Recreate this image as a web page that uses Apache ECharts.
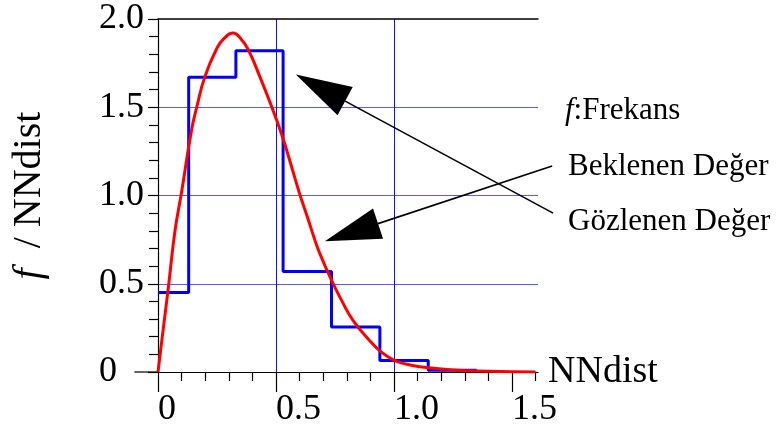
<!DOCTYPE html>
<html>
<head>
<meta charset="utf-8">
<script src="https://cdn.jsdelivr.net/npm/echarts@6/dist/echarts.min.js"></script>
<style>html,body{margin:0;background:#fff}#main{width:777px;height:433px}</style>
</head>
<body>
<div id="main"></div>
<script>
// gözlenen (histogram) - bin kenarları ve yükseklikler
var binEdges = [0, 0.13, 0.33, 0.53, 0.735, 0.94, 1.145, 1.35];
var observed = [0.45, 1.67, 1.82, 0.57, 0.255, 0.065, 0.01];

// beklenen (kırmızı eğri)
var curveX = [0, 0.02, 0.044, 0.072, 0.10, 0.142, 0.164, 0.199, 0.248, 0.28, 0.318, 0.35, 0.382, 0.431, 0.481, 0.523, 0.56, 0.60, 0.635, 0.664, 0.685, 0.735, 0.78, 0.826, 0.896, 0.94, 0.995, 1.05, 1.108, 1.25, 1.4, 1.6];
var curveY = [0, 0.22, 0.48, 0.80, 1.02, 1.37, 1.50, 1.675, 1.83, 1.89, 1.92, 1.89, 1.827, 1.675, 1.505, 1.35, 1.19, 1.01, 0.87, 0.75, 0.673, 0.52, 0.40, 0.293, 0.179, 0.12, 0.07, 0.045, 0.03, 0.012, 0.004, 0];

var xMajorTicks = [0, 0.5, 1.0, 1.5];
var xMinorTicks = [0.1, 0.2, 0.3, 0.4, 0.6, 0.7, 0.8, 0.9, 1.1, 1.2, 1.3, 1.4, 1.6];

// notlar ve oklar (veri koordinatında)
var notes = ['{i|f}:Frekans', 'Beklenen Değer', 'Gözlenen Değer'];
var arrowObs = [[1.674, 0.90], [0.584, 1.685]];
var arrowExp = [[1.670, 1.167], [0.707, 0.741]];

var serif = 'Liberation Serif';

var stepData = [];
for (var i = 0; i < observed.length; i++) {
    stepData.push([binEdges[i], observed[i]]);
}
stepData.push([binEdges[binEdges.length - 1], observed[observed.length - 1]]);

var curveData = curveX.map(function (x, i) { return [x, curveY[i]]; });

function fmt(v) { return v === 0 ? '0' : v.toFixed(1); }

var chart = echarts.init(document.getElementById('main'));
var option = {
    animation: false,
    backgroundColor: '#fff',
    grid: {left: 158, top: 19, right: 239, bottom: 61},
    xAxis: [
        {
            type: 'value', min: 0, max: 1.61, interval: 0.5, position: 'bottom',
            axisLine: {lineStyle: {color: '#000', width: 1.2}},
            axisTick: {customValues: xMajorTicks, length: 20, lineStyle: {color: '#000', width: 1.2}},
            axisLabel: {
                customValues: xMajorTicks, formatter: fmt, align: 'left', margin: 20,
                color: '#000', fontSize: 36, fontFamily: serif
            },
            splitLine: {show: true, showMinLine: false, showMaxLine: false, lineStyle: {color: '#1010ff', width: 1}},
            name: 'NNdist', nameLocation: 'end', nameGap: 10,
            nameTextStyle: {color: '#000', fontSize: 38, fontFamily: serif, verticalAlign: 'middle'}
        },
        {
            type: 'value', min: 0, max: 1.61, position: 'bottom',
            axisLine: {show: false},
            axisTick: {customValues: xMinorTicks, length: 9, lineStyle: {color: '#000', width: 1.2}},
            axisLabel: {show: false},
            splitLine: {show: false}
        },
        {
            type: 'value', min: 0, max: 1.61, position: 'top',
            axisLine: {lineStyle: {color: '#000', width: 1.5}},
            axisTick: {show: false},
            axisLabel: {show: false},
            splitLine: {show: false}
        }
    ],
    yAxis: {
        type: 'value', min: 0, max: 2, interval: 0.5,
        axisLine: {show: true, lineStyle: {color: '#000', width: 1.2}},
        axisTick: {show: true, length: 10, lineStyle: {color: '#000', width: 1.2}},
        minorTick: {show: true, splitNumber: 5, length: 9, lineStyle: {color: '#000', width: 1.2}},
        axisLabel: {formatter: fmt, align: 'left', margin: 59, color: '#000', fontSize: 36, fontFamily: serif},
        splitLine: {show: true, showMinLine: false, showMaxLine: false, lineStyle: {color: '#5a5aff', width: 1}},
        name: '{i|f}  / NNdist', nameLocation: 'middle', nameGap: 109,
        nameTextStyle: {
            color: '#000', fontSize: 40, fontFamily: serif,
            rich: {i: {fontStyle: 'italic', fontSize: 40, fontFamily: serif, color: '#000'}}
        }
    },
    series: [
        {
            name: 'Gözlenen Değer', type: 'line', step: 'end', xAxisIndex: 0,
            symbol: 'none', data: stepData,
            lineStyle: {color: '#0000ff', width: 3}
        },
        {
            name: 'Beklenen Değer', type: 'line', xAxisIndex: 0,
            symbol: 'none', smooth: 0.5, data: curveData,
            lineStyle: {color: '#ff0000', width: 3}
        }
    ]
};
chart.setOption(option);

// ok ve yazılar
function px(p) { return chart.convertToPixel({xAxisIndex: 0, yAxisIndex: 0}, p); }

function arrow(a) {
    var t = px(a[0]), h = px(a[1]);
    var dx = h[0] - t[0], dy = h[1] - t[1];
    var len = Math.sqrt(dx * dx + dy * dy);
    var ux = dx / len, uy = dy / len;
    var hl = 56, hw = 16;
    var bx = h[0] - ux * hl, by = h[1] - uy * hl;
    return [
        {type: 'line', shape: {x1: t[0], y1: t[1], x2: bx, y2: by}, style: {stroke: '#000', lineWidth: 1.6}, z: 100},
        {type: 'polygon', shape: {points: [[h[0], h[1]], [bx - uy * hw, by + ux * hw], [bx + uy * hw, by - ux * hw]]},
            style: {fill: '#000'}, z: 100}
    ];
}

var stubA = px([-0.1, 0]), stubB = px([0, 0]);
var graphics = [
    {type: 'line', shape: {x1: stubA[0], y1: stubA[1], x2: stubB[0], y2: stubB[1]}, style: {stroke: '#000', lineWidth: 1.2}}
];
graphics = graphics.concat(arrow(arrowObs), arrow(arrowExp));

var noteY = [111, 167, 222];
notes.forEach(function (t, i) {
    graphics.push({
        type: 'text', x: i === 0 ? 565 : 568, y: noteY[i],
        style: {
            text: t, fill: '#000', font: '31px "Liberation Serif"', verticalAlign: 'middle', align: 'left',
            rich: {i: {fontStyle: 'italic', fontSize: 31, fontFamily: serif}}
        }
    });
});
chart.setOption({graphic: graphics});
</script>
</body>
</html>
